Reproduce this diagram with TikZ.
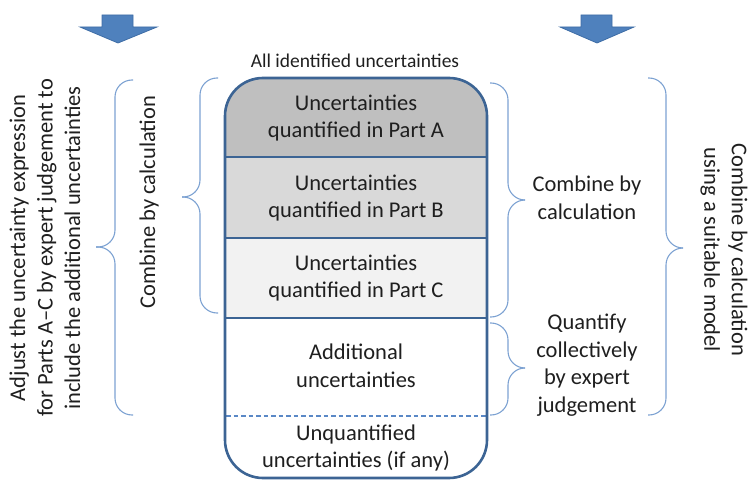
\documentclass[tikz,border=0pt]{standalone}
\usepackage{fontspec}
\setmainfont{Carlito}
\definecolor{boxline}{HTML}{3C6494}
\definecolor{fillA}{HTML}{BFBFBF}
\definecolor{fillB}{HTML}{D9D9D9}
\definecolor{fillC}{HTML}{F2F2F2}
\definecolor{bracecol}{HTML}{7DA2D2}
\definecolor{dashcol}{HTML}{5A88C6}
\definecolor{arrowfill}{HTML}{4F81BD}
\definecolor{arrowline}{HTML}{3E6DA6}
\definecolor{textcol}{HTML}{1F1F1F}
\begin{document}
\begin{tikzpicture}[x=1pt,y=-1pt,
  txt/.style={font=\fontsize{22.5}{27.5}\selectfont, text=textcol, align=center, inner sep=0pt},
  smalltxt/.style={font=\fontsize{19.5}{22}\selectfont, text=textcol, align=center, inner sep=0pt},
  bracestyle/.style={draw=bracecol, line width=1.1pt, rounded corners=17pt},
  bigarrow/.style={fill=arrowfill, draw=arrowline, line width=0.8pt, line join=miter}]
\useasboundingbox (0,0) rectangle (749,481);

% arrows
\draw[bigarrow] (102,15) -- (133,15) -- (133,27) -- (157,27) -- (118,43) -- (80,27) -- (102,27) -- cycle;
\draw[bigarrow] (581,15) -- (612,15) -- (612,27) -- (634,27) -- (597,43) -- (560,27) -- (581,27) -- cycle;

% main box fills
\begin{scope}
  \clip[rounded corners=38pt] (225,78) rectangle (487,478);
  \fill[fillA] (225,78) rectangle (487,157);
  \fill[fillB] (225,157) rectangle (487,238);
  \fill[fillC] (225,238) rectangle (487,318);
  \fill[white] (225,318) rectangle (487,478);
\end{scope}
\draw[boxline, line width=2.6pt] (225,157) -- (487,157);
\draw[boxline, line width=2.6pt] (225,238) -- (487,238);
\draw[boxline, line width=2.6pt] (225,318) -- (487,318);
\draw[dashcol, line width=1.5pt, dash pattern=on 4.5pt off 3pt] (226,416) -- (486,416);
\draw[boxline, line width=2.6pt, rounded corners=38pt] (225,78) rectangle (487,478);

% texts in box
\node[smalltxt] (all) at (355,61) {All identified uncertainties};
\node[txt] (pa) at (356,118) {Uncertainties\\quantified in Part A};
\node[txt] (pb) at (356,198) {Uncertainties\\quantified in Part B};
\node[txt] (pc) at (356,278) {Uncertainties\\quantified in Part C};
\node[txt] (add) at (356,366) {Additional\\uncertainties};
\node[txt] (unq) at (356,448) {Unquantified\\uncertainties (if any)};

% left braces
\draw[bracestyle] (218,78) -- (200,78) -- (200,197) -- (182,197);
\draw[bracestyle] (182,197) -- (200,197) -- (200,313) -- (218,313);
\draw[bracestyle] (133,80) -- (115,80) -- (115,247) -- (96,247);
\draw[bracestyle] (96,247) -- (115,247) -- (115,415) -- (133,415);

% right braces
\draw[bracestyle] (490,83) -- (508,83) -- (508,200) -- (525,200);
\draw[bracestyle] (525,200) -- (508,200) -- (508,317) -- (490,317);
\draw[bracestyle] (490,323) -- (508,323) -- (508,368) -- (525,368);
\draw[bracestyle] (525,368) -- (508,368) -- (508,415) -- (490,415);
\draw[bracestyle] (648,78) -- (666,78) -- (666,248) -- (683,248);
\draw[bracestyle] (683,248) -- (666,248) -- (666,415) -- (648,415);

% side texts
\node[txt, rotate=90] (lcomb) at (149,202) {Combine by calculation};
\node[txt, rotate=90] (ladj) at (45,248) {Adjust the uncertainty expression\\for Parts A–C by expert judgement to\\include the additional uncertainties};
\node[txt] (rcomb) at (587,198) {Combine by\\calculation};
\node[txt] (rquant) at (587,365) {Quantify\\collectively\\by expert\\judgement};
\node[txt, rotate=-90] (rmodel) at (724,250) {Combine by calculation\\using a suitable model};
\end{tikzpicture}
\end{document}
